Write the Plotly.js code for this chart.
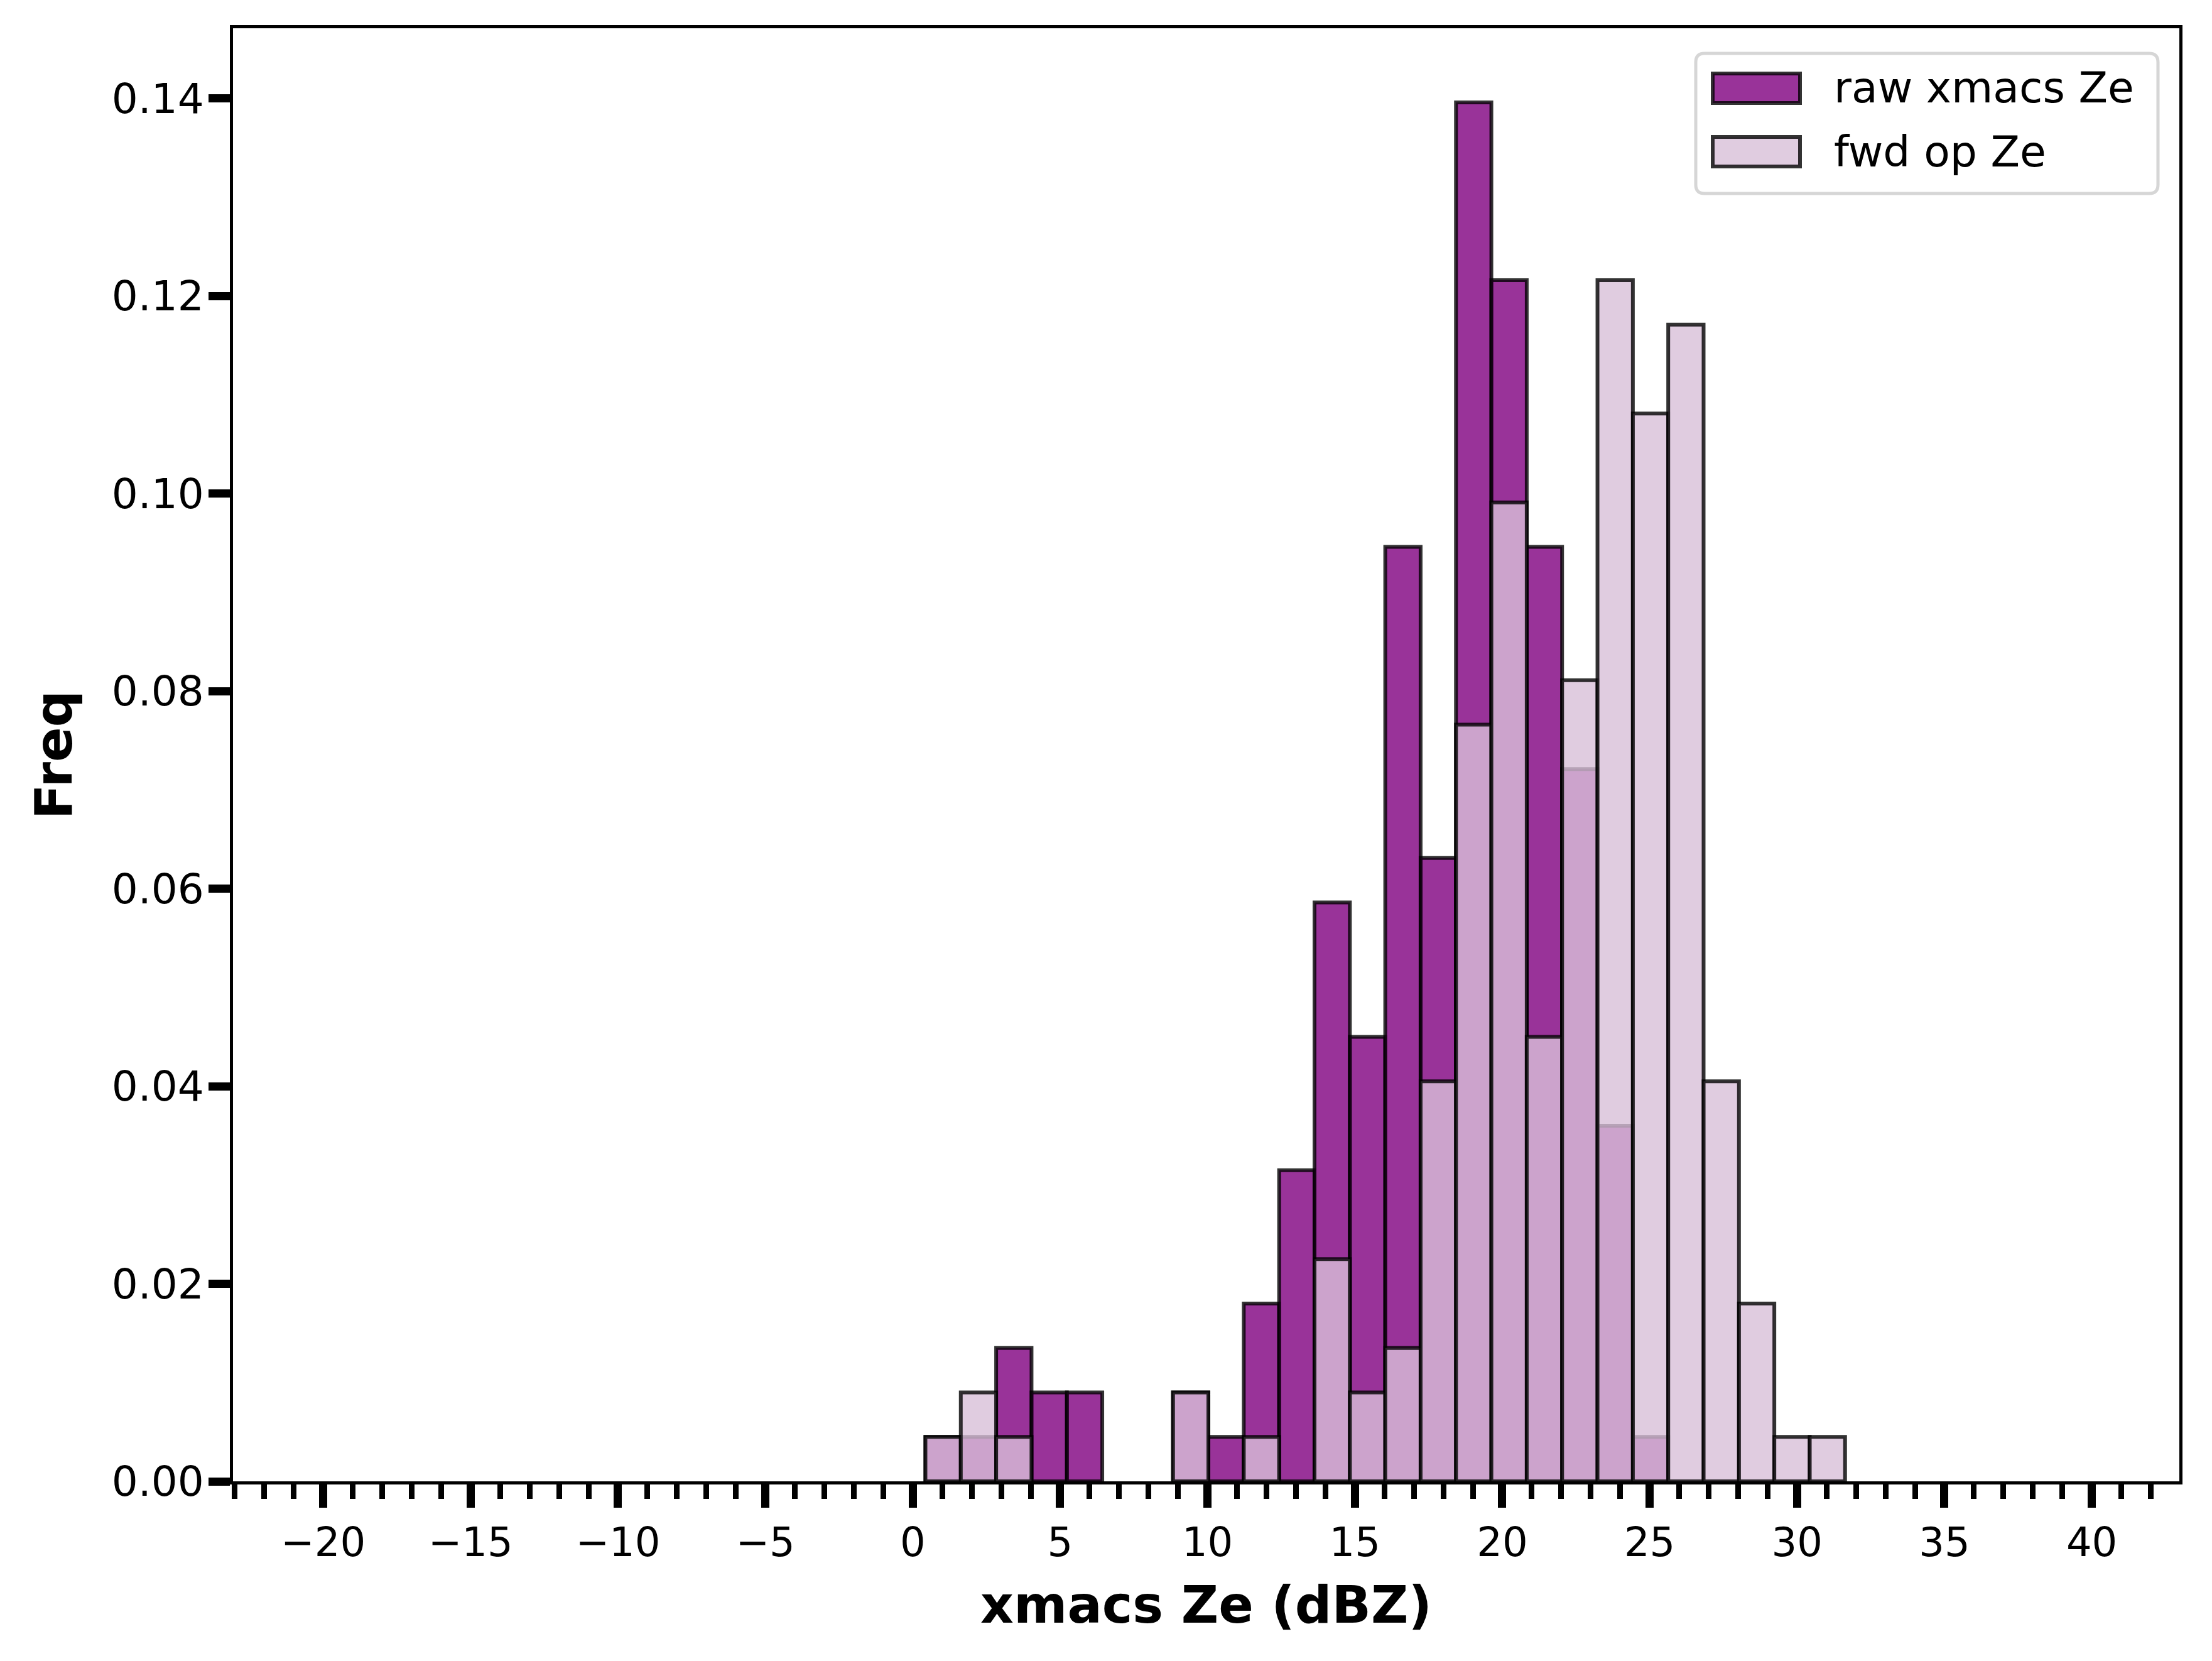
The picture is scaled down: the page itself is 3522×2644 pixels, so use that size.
<!DOCTYPE html>
<html>
<head>
<meta charset="utf-8">
<script src="https://cdn.plot.ly/plotly-3.0.1.min.js"></script>
<style>
  html, body { margin: 0; padding: 0; background: #fff; }
</style>
</head>
<body>
<div id="myDiv"></div>
<script>
// bin centres (bin width 1.2 dBZ)
var binCenters = [1.03, 2.23, 3.43, 4.63, 5.83, 7.03, 8.23, 9.43, 10.63, 11.83,
  13.03, 14.23, 15.43, 16.63, 17.83, 19.03, 20.23, 21.43, 22.63, 23.83,
  25.03, 26.23, 27.43, 28.63, 29.83, 31.03];
var binWidth = 1.2;

var rawFreq = [0.0045, 0.0045, 0.0135, 0.009, 0.009, 0, 0, 0.009, 0.0045, 0.018,
  0.0315, 0.0586, 0.045, 0.0946, 0.0631, 0.1396, 0.1216, 0.0946, 0.0721, 0.036,
  0.0045, 0, 0, 0, 0, 0];

var fwdFreq = [0.0045, 0.009, 0.0045, 0, 0, 0, 0, 0.009, 0, 0.0045,
  0, 0.0225, 0.009, 0.0135, 0.0405, 0.0766, 0.0991, 0.045, 0.0811, 0.1216,
  0.1081, 0.1171, 0.0405, 0.018, 0.0045, 0.0045];

var seriesNames = ['raw xmacs Ze', 'fwd op Ze'];
var xTicks = [-20, -15, -10, -5, 0, 5, 10, 15, 20, 25, 30, 35, 40];
var yTicks = [0, 0.02, 0.04, 0.06, 0.08, 0.10, 0.12, 0.14];

var rawColor = 'rgba(128,0,128,0.8)';
var fwdColor = 'rgba(216,191,216,0.8)';
var edge = 'rgba(0,0,0,0.8)';
var edgeW = 6;

// empty bins get no outline
function edgeWidths(vals) {
  return vals.map(function (v) { return v > 0 ? edgeW : 0; });
}

var raw = {
  x: binCenters,
  y: rawFreq,
  width: binWidth,
  type: 'bar',
  name: seriesNames[0],
  marker: { color: rawColor, line: { color: edge, width: edgeWidths(rawFreq) } },
  showlegend: false
};

var fwd = {
  x: binCenters,
  y: fwdFreq,
  width: binWidth,
  type: 'bar',
  name: seriesNames[1],
  marker: { color: fwdColor, line: { color: edge, width: edgeWidths(fwdFreq) } },
  showlegend: false
};

// plot area in pixels, used to place the hand made legend
var L = 371, R = 3470, T = 45, B = 2358;
function px(x) { return (x - L) / (R - L); }
function py(y) { return (B - y) / (B - T); }

function roundRect(x0, y0, x1, y1, r) {
  var ax0 = px(x0), ax1 = px(x1), ay0 = py(y1), ay1 = py(y0);
  var rx = r / (R - L), ry = r / (B - T);
  return 'M' + (ax0 + rx) + ',' + ay0 +
    ' L' + (ax1 - rx) + ',' + ay0 + ' Q' + ax1 + ',' + ay0 + ' ' + ax1 + ',' + (ay0 + ry) +
    ' L' + ax1 + ',' + (ay1 - ry) + ' Q' + ax1 + ',' + ay1 + ' ' + (ax1 - rx) + ',' + ay1 +
    ' L' + (ax0 + rx) + ',' + ay1 + ' Q' + ax0 + ',' + ay1 + ' ' + ax0 + ',' + (ay1 - ry) +
    ' L' + ax0 + ',' + (ay0 + ry) + ' Q' + ax0 + ',' + ay0 + ' ' + (ax0 + rx) + ',' + ay0 + ' Z';
}

var shapes = [
  { type: 'path', xref: 'paper', yref: 'paper', path: roundRect(2700, 85, 3436, 308, 14),
    fillcolor: 'rgba(255,255,255,0.8)', line: { color: '#d6d6d6', width: 5 } },
  { type: 'rect', xref: 'paper', yref: 'paper', x0: px(2727), x1: px(2866), y0: py(164), y1: py(117),
    fillcolor: rawColor, line: { color: edge, width: edgeW } },
  { type: 'rect', xref: 'paper', yref: 'paper', x0: px(2727), x1: px(2866), y0: py(265), y1: py(218),
    fillcolor: fwdColor, line: { color: edge, width: edgeW } }
];

var annotations = [
  { xref: 'paper', yref: 'paper', x: px(2918), y: py(140), text: seriesNames[0],
    showarrow: false, xanchor: 'left', yanchor: 'middle', font: { size: 68, color: '#000' } },
  { xref: 'paper', yref: 'paper', x: px(2918), y: py(241), text: seriesNames[1],
    showarrow: false, xanchor: 'left', yanchor: 'middle', font: { size: 68, color: '#000' } }
];

var lay = {
  width: 3522,
  height: 2644,
  margin: { l: L, r: 3522 - R, t: T, b: 2644 - B, pad: 0 },
  paper_bgcolor: '#fff',
  plot_bgcolor: '#fff',
  barmode: 'overlay',
  bargap: 0,
  font: { family: 'DejaVu Sans', size: 64, color: '#000' },
  xaxis: {
    range: [-23.06, 42.97],
    tickvals: xTicks,
    ticks: 'outside',
    ticklen: 37,
    tickwidth: 13,
    tickcolor: '#000',
    minor: { dtick: 1, tick0: 0, ticks: 'outside', ticklen: 23, tickwidth: 9, tickcolor: '#000' },
    showgrid: false,
    zeroline: false,
    showline: true,
    mirror: true,
    linecolor: '#000',
    linewidth: 5,
    title: { text: 'xmacs Ze (dBZ)', font: { size: 82, weight: 'bold' }, standoff: 36 },
    automargin: false
  },
  yaxis: {
    range: [0, 0.1471],
    tickvals: yTicks,
    tickformat: '.2f',
    tickfont: { size: 66 },
    ticks: 'outside',
    ticklen: 34,
    tickwidth: 13,
    tickcolor: '#000',
    ticklabelstandoff: -6,
    showgrid: false,
    zeroline: false,
    showline: true,
    mirror: true,
    linecolor: '#000',
    linewidth: 5,
    title: { text: 'Freq', font: { size: 82, weight: 'bold' }, standoff: 38 },
    automargin: false
  },
  shapes: shapes,
  annotations: annotations
};

Plotly.newPlot('myDiv', [raw, fwd], lay, { staticPlot: true });
</script>
</body>
</html>
